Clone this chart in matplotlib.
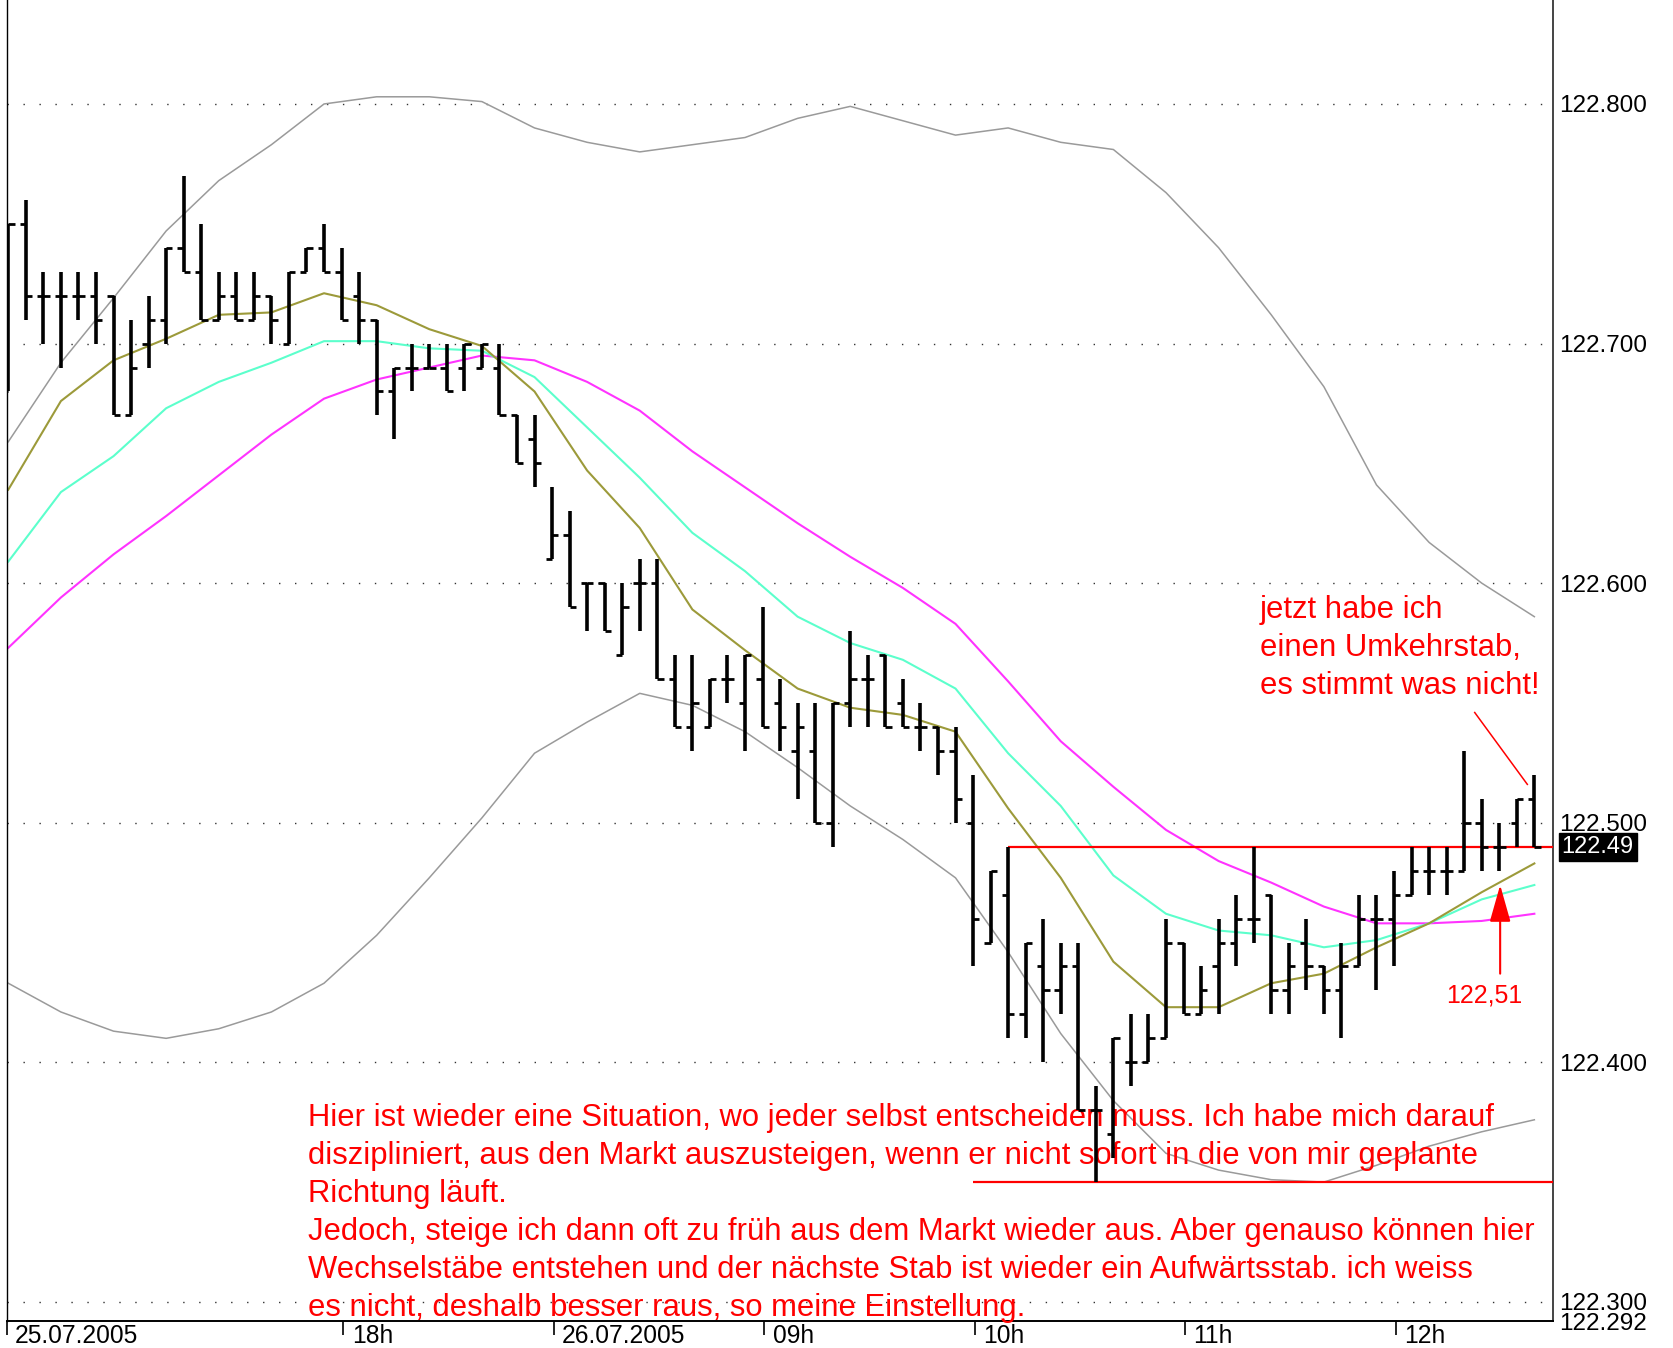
import numpy as np
import matplotlib.pyplot as plt

plt.rcParams['font.family'] = ['Liberation Sans', 'DejaVu Sans']

# OHLC der 5-Minuten-Stäbe (USD/JPY)
opens = [122.68, 122.75, 122.72, 122.72, 122.72, 122.72, 122.72, 122.67, 122.70, 122.71,
         122.74, 122.73, 122.71, 122.72, 122.71, 122.72, 122.70, 122.73, 122.74, 122.73,
         122.72, 122.71, 122.68, 122.69, 122.69, 122.69, 122.69, 122.69, 122.69, 122.67,
         122.66, 122.61, 122.62, 122.60, 122.60, 122.57, 122.60, 122.60, 122.56, 122.54,
         122.54, 122.56, 122.55, 122.56, 122.55, 122.53, 122.53, 122.50, 122.55, 122.56,
         122.57, 122.55, 122.54, 122.54, 122.53, 122.50, 122.45, 122.47, 122.42, 122.44,
         122.43, 122.44, 122.38, 122.37, 122.40, 122.40, 122.41, 122.45, 122.42, 122.44,
         122.45, 122.46, 122.47, 122.43, 122.45, 122.44, 122.43, 122.44, 122.46, 122.46,
         122.47, 122.48, 122.48, 122.48, 122.50, 122.49, 122.50, 122.51]
highs = [122.75, 122.76, 122.73, 122.73, 122.73, 122.73, 122.72, 122.71, 122.72, 122.74,
         122.77, 122.75, 122.73, 122.73, 122.73, 122.72, 122.73, 122.74, 122.75, 122.74,
         122.73, 122.71, 122.69, 122.70, 122.70, 122.70, 122.70, 122.70, 122.70, 122.67,
         122.67, 122.64, 122.63, 122.60, 122.60, 122.60, 122.61, 122.61, 122.57, 122.57,
         122.56, 122.57, 122.57, 122.59, 122.56, 122.55, 122.55, 122.55, 122.58, 122.57,
         122.57, 122.56, 122.55, 122.54, 122.54, 122.52, 122.48, 122.49, 122.45, 122.46,
         122.45, 122.45, 122.39, 122.41, 122.42, 122.42, 122.46, 122.45, 122.44, 122.46,
         122.47, 122.49, 122.47, 122.45, 122.46, 122.44, 122.45, 122.47, 122.47, 122.48,
         122.49, 122.49, 122.49, 122.53, 122.51, 122.50, 122.51, 122.52]
lows = [122.68, 122.71, 122.70, 122.69, 122.71, 122.70, 122.67, 122.67, 122.69, 122.70,
        122.73, 122.71, 122.71, 122.71, 122.71, 122.70, 122.70, 122.73, 122.73, 122.71,
        122.70, 122.67, 122.66, 122.68, 122.69, 122.68, 122.68, 122.69, 122.67, 122.65,
        122.64, 122.61, 122.59, 122.58, 122.58, 122.57, 122.58, 122.56, 122.54, 122.53,
        122.54, 122.55, 122.53, 122.54, 122.53, 122.51, 122.50, 122.49, 122.54, 122.54,
        122.54, 122.54, 122.53, 122.52, 122.50, 122.44, 122.45, 122.41, 122.41, 122.40,
        122.42, 122.38, 122.35, 122.36, 122.39, 122.40, 122.41, 122.42, 122.42, 122.42,
        122.44, 122.45, 122.42, 122.42, 122.43, 122.42, 122.41, 122.44, 122.43, 122.44,
        122.47, 122.47, 122.47, 122.48, 122.48, 122.48, 122.49, 122.49]
closes = [122.75, 122.72, 122.72, 122.72, 122.72, 122.71, 122.67, 122.69, 122.71, 122.74,
          122.73, 122.71, 122.72, 122.71, 122.72, 122.71, 122.73, 122.74, 122.73, 122.71,
          122.71, 122.68, 122.69, 122.69, 122.69, 122.68, 122.70, 122.70, 122.67, 122.65,
          122.65, 122.62, 122.59, 122.60, 122.58, 122.59, 122.60, 122.56, 122.54, 122.55,
          122.56, 122.56, 122.57, 122.54, 122.54, 122.54, 122.50, 122.55, 122.56, 122.56,
          122.54, 122.54, 122.54, 122.53, 122.51, 122.46, 122.48, 122.42, 122.45, 122.43,
          122.44, 122.38, 122.38, 122.41, 122.40, 122.41, 122.45, 122.42, 122.43, 122.45,
          122.46, 122.46, 122.43, 122.44, 122.44, 122.43, 122.44, 122.46, 122.46, 122.47,
          122.48, 122.48, 122.48, 122.50, 122.49, 122.49, 122.51, 122.49]

ind_idx = list(range(0, 88, 3))
band_upper = [122.659, 122.692, 122.719, 122.747, 122.768, 122.783, 122.800, 122.803, 122.803, 122.801,
              122.790, 122.784, 122.780, 122.783, 122.786, 122.794, 122.799, 122.793, 122.787, 122.790,
              122.784, 122.781, 122.763, 122.740, 122.712, 122.682, 122.641, 122.617, 122.600, 122.586]
band_lower = [122.433, 122.421, 122.413, 122.410, 122.414, 122.421, 122.433, 122.453, 122.477, 122.502,
              122.529, 122.542, 122.554, 122.549, 122.538, 122.523, 122.507, 122.493, 122.477, 122.446,
              122.412, 122.384, 122.362, 122.355, 122.351, 122.350, 122.357, 122.365, 122.371, 122.376]
ma_olive = [122.639, 122.676, 122.693, 122.702, 122.712, 122.713, 122.721, 122.716, 122.706, 122.699,
            122.680, 122.647, 122.623, 122.589, 122.572, 122.556, 122.548, 122.545, 122.538, 122.506,
            122.477, 122.442, 122.423, 122.423, 122.433, 122.437, 122.448, 122.458, 122.471, 122.483]
ma_cyan = [122.609, 122.638, 122.653, 122.673, 122.684, 122.692, 122.701, 122.701, 122.698, 122.697,
           122.686, 122.665, 122.644, 122.621, 122.605, 122.586, 122.575, 122.568, 122.556, 122.529,
           122.507, 122.478, 122.462, 122.455, 122.453, 122.448, 122.451, 122.458, 122.468, 122.474]
ma_magenta = [122.573, 122.594, 122.612, 122.628, 122.645, 122.662, 122.677, 122.685, 122.690, 122.695,
              122.693, 122.684, 122.672, 122.655, 122.640, 122.625, 122.611, 122.598, 122.583, 122.559,
              122.534, 122.515, 122.497, 122.484, 122.475, 122.465, 122.458, 122.458, 122.459, 122.462]

grid_levels = [122.3, 122.4, 122.5, 122.6, 122.7, 122.8]
y_min, y_max = 122.292, 122.8434
tick_pos = [-0.09, 19.1, 31.1, 43.1, 55.1, 67.1, 79.1]
tick_labels = ['25.07.2005', '18h', '26.07.2005', '09h', '10h', '11h', '12h']

last_price = 122.49
resistance = (122.49, 57.0)   # Preis, Startstab
support = (122.35, 55.0)
pointer_x = [83.6, 86.6]
pointer_y = [122.546, 122.516]
arrow_x, arrow_from, arrow_to = 85.05, 122.437, 122.474

note = ("Hier ist wieder eine Situation, wo jeder selbst entscheiden muss. Ich habe mich darauf\n"
        "diszipliniert, aus den Markt auszusteigen, wenn er nicht sofort in die von mir geplante\n"
        "Richtung läuft.\n"
        "Jedoch, steige ich dann oft zu früh aus dem Markt wieder aus. Aber genauso können hier\n"
        "Wechselstäbe entstehen und der nächste Stab ist wieder ein Aufwärtsstab. ich weiss\n"
        "es nicht, deshalb besser raus, so meine Einstellung.")
note2 = "jetzt habe ich\neinen Umkehrstab,\nes stimmt was nicht!"

fig = plt.figure(figsize=(16.74, 13.48), dpi=100)
ax = fig.add_axes([0.004, 0.02, 0.9239, 0.98])
ax.set_xlim(-0.09, 88.08)
ax.set_ylim(y_min, y_max)
x_right = ax.get_xlim()[1]

for lvl in grid_levels:
    ax.axhline(lvl, color='#333333', lw=1.0, ls=(0, (1, 10.5)), zorder=1)

# Bollinger + gleitende Durchschnitte
ax.plot(ind_idx, band_upper, color='#9a9a9a', lw=1.1, zorder=2)
ax.plot(ind_idx, band_lower, color='#9a9a9a', lw=1.1, zorder=2)
ax.plot(ind_idx, ma_magenta, color='#ff33ff', lw=1.5, zorder=2)
ax.plot(ind_idx, ma_cyan, color='#5cffcc', lw=1.5, zorder=2)
ax.plot(ind_idx, ma_olive, color='#9c9a3a', lw=1.5, zorder=2)

# rote Linien
ax.hlines(resistance[0], resistance[1], x_right, color='red', lw=1.6, zorder=3)
ax.hlines(support[0], support[1], x_right, color='red', lw=1.6, zorder=3)
ax.plot(pointer_x, pointer_y, color='red', lw=1.1, zorder=3)
ax.annotate('', xy=(arrow_x, arrow_to), xytext=(arrow_x, arrow_from),
            arrowprops=dict(arrowstyle='-|>,head_length=2.3,head_width=0.65',
                            color='red', lw=1.5, shrinkA=0, shrinkB=0), zorder=3)
ax.text(84.13, 122.428, '122,51', color='red', fontsize=18, ha='center', va='center', zorder=3)

ax.text(17.1, 122.3832, note, color='red', fontsize=22.3, ha='left', va='top',
        linespacing=1.35, zorder=3)
ax.text(71.36, 122.5952, note2, color='red', fontsize=22.3, ha='left', va='top',
        linespacing=1.36, zorder=3)

# OHLC-Stäbe
x = np.arange(len(opens))
ax.vlines(x, lows, highs, color='black', lw=2.6, zorder=5)
ax.hlines(opens, x - 0.36, x, color='black', lw=2.0, zorder=5)
ax.hlines(closes, x, x + 0.36, color='black', lw=2.0, zorder=5)

# Achsen
ax.yaxis.tick_right()
ax.set_yticks(grid_levels + [y_min])
ax.set_yticklabels([f"{v:.3f}" for v in grid_levels + [y_min]])
ax.tick_params(axis='y', length=0, pad=4, labelsize=17.5)
ax.set_xticks(tick_pos)
ax.set_xticklabels([])
ax.tick_params(axis='x', length=10, width=1.2, direction='out', color='black')
for pos, lbl in zip(tick_pos, tick_labels):
    ax.annotate(lbl, xy=(pos, 0), xycoords=('data', 'axes fraction'), xytext=(6, -2),
                textcoords='offset points', ha='left', va='top', fontsize=17.7,
                annotation_clip=False)

ax.annotate(f"{last_price:.2f}", xy=(1, last_price), xycoords=('axes fraction', 'data'),
            xytext=(6, 0), textcoords='offset points', ha='left', va='center',
            color='white', fontsize=17, annotation_clip=False,
            bbox=dict(boxstyle='square,pad=0.12', fc='black', ec='black'))

ax.spines['top'].set_visible(False)
ax.spines['left'].set_linewidth(1.0)
ax.spines['bottom'].set_linewidth(1.4)
ax.spines['right'].set_linewidth(1.4)
ax.spines['right'].set_color('#444444')

fig.savefig('out.png', dpi=100, facecolor='white')
